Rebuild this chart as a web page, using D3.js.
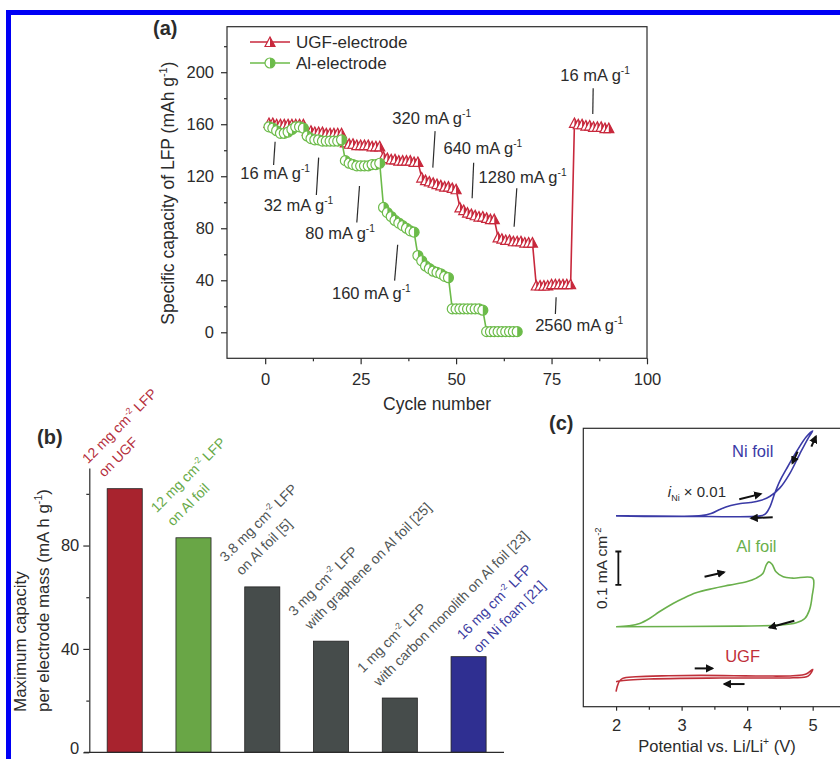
<!DOCTYPE html>
<html>
<head>
<meta charset="utf-8">
<script src="https://cdn.jsdelivr.net/npm/d3@7"></script>
<style>
  body { margin: 0; background: #fff; }
  svg { display: block; font-family: "Liberation Sans", Arial, sans-serif; }
</style>
</head>
<body>
<svg id="fig" width="840" height="759"></svg>
<script>
// ---------- data: (a) rate capability ----------
const ugfCycles = d3.range(1, 91);
const ugfCapacity = [
  161, 161, 160, 160, 160, 160, 160, 160, 160, 160,
  155, 155, 154, 154, 154, 153, 153, 153, 153, 153,
  146, 145, 145, 144, 144, 144, 144, 143, 143, 143,
  135, 134, 133, 133, 132, 132, 132, 132, 131, 131,
  119, 117, 116, 115, 114, 113, 112, 112, 111, 110,
  96, 94, 92, 91, 90, 89, 89, 88, 87, 87,
  73, 72, 71, 71, 70, 70, 70, 69, 69, 69,
  36, 36, 36, 36, 37, 37, 37, 37, 37, 37,
  161, 160, 160, 159, 159, 158, 158, 158, 157, 157
];
const alCycles = d3.range(1, 67);
const alCapacity = [
  158, 157, 155, 153, 153, 154, 156, 158, 158, 157,
  151, 149, 148, 148, 147, 147, 147, 147, 147, 148,
  132, 130, 129, 128, 128, 128, 128, 129, 129, 130,
  96, 92, 89, 86, 84, 82, 80, 78, 77,
  59, 55, 51, 49, 47, 46, 45, 43, 42,
  18, 18, 18, 18, 18, 18, 18, 18, 17,
  0.5, 0.5, 0.5, 0.5, 0.5, 0.5, 0.5, 0.5, 0.5
];
const xTicksA = [0, 25, 50, 75, 100];
const yTicksA = [0, 40, 80, 120, 160, 200];
// current-rate notes: text anchor and leader line, in (cycle, capacity)
const rateNotes = [
  { text: "16 mA g^{-1}",   at: [-6.5, 117.7], line: [[2.6, 146.5], [2.2, 128.7]] },
  { text: "32 mA g^{-1}",   at: [-0.4, 93.4],  line: [[14.0, 134.3], [13.4, 105.6]] },
  { text: "80 mA g^{-1}",   at: [10.5, 71.7],  line: [[24.7, 112.5], [24.0, 84.4]] },
  { text: "160 mA g^{-1}",  at: [17.5, 25.6],  line: [[34.7, 67.3], [33.9, 39.7]] },
  { text: "320 mA g^{-1}",  at: [33.3, 160.1], line: [[44.5, 154.7], [43.9, 126.6]] },
  { text: "640 mA g^{-1}",  at: [46.7, 136.9], line: [[54.6, 130.4], [54.2, 103.1]] },
  { text: "1280 mA g^{-1}", at: [55.9, 115.1], line: [[65.9, 110.8], [65.2, 81.1]] },
  { text: "2560 mA g^{-1}", at: [70.7, 1.3],   line: [[76.2, 26.9], [76.0, 14.1]] },
  { text: "16 mA g^{-1}",   at: [77.3, 193.1], line: [[85.9, 187.7], [85.8, 167.8]] }
];

// ---------- data: (b) maximum capacity ----------
const barNames = ["UGF", "Al foil", "Al foil [5]", "graphene [25]", "monolith [23]", "Ni foam [21]"];
const barValues = [102, 83, 64, 43, 21, 37];
const barLabels = [
  ["12 mg cm^{-2} LFP", "on UGF"],
  ["12 mg cm^{-2} LFP", "on Al foil"],
  ["3.8 mg cm^{-2} LFP", "on Al foil [5]"],
  ["3 mg cm^{-2} LFP", "with graphene on Al foil [25]"],
  ["1 mg cm^{-2} LFP", "with carbon monolith on Al foil [23]"],
  ["16 mg cm^{-2} LFP", "on Ni foam [21]"]
];
const yTicksB = [0, 40, 80];

// ---------- data: (c) CV curves, [potential V, current mA cm-2 incl. offset] ----------
const niFoil = [
  [2.0, 0.573], [3.3, 0.574], [3.45, 0.580], [3.6, 0.594], [3.75, 0.604], [3.9, 0.610],
  [4.05, 0.613], [4.2, 0.619], [4.35, 0.632], [4.5, 0.657], [4.65, 0.700], [4.8, 0.758],
  [4.93, 0.806], [5.0, 0.828],
  [4.9, 0.810], [4.75, 0.765], [4.6, 0.714], [4.5, 0.678], [4.42, 0.640], [4.35, 0.601],
  [4.28, 0.579], [4.2, 0.573], [3.0, 0.572], [2.0, 0.573]
];
const alFoil = [
  [2.0, 0.240], [2.2, 0.243], [2.36, 0.250], [2.51, 0.265], [2.66, 0.285], [2.87, 0.310],
  [3.02, 0.325], [3.22, 0.342], [3.48, 0.355], [3.73, 0.365], [3.99, 0.375], [4.14, 0.386],
  [4.24, 0.400], [4.29, 0.425], [4.33, 0.435], [4.38, 0.428], [4.44, 0.405], [4.55, 0.390],
  [4.7, 0.386], [5.0, 0.386],
  [4.99, 0.330], [4.95, 0.290], [4.88, 0.265], [4.75, 0.252], [4.49, 0.245], [3.88, 0.242],
  [2.0, 0.240]
];
const ugfCV = [
  [2.0, 0.045], [2.02, 0.062], [2.05, 0.076], [2.1, 0.085], [2.3, 0.090], [2.8, 0.093],
  [3.3, 0.094], [3.8, 0.093], [4.3, 0.092], [4.7, 0.093], [4.9, 0.098], [5.0, 0.112],
  [4.93, 0.092], [4.7, 0.087], [4.2, 0.086], [3.6, 0.086], [3.0, 0.085], [2.5, 0.083],
  [2.2, 0.080], [2.05, 0.077], [2.0, 0.075]
];
// scan direction arrows: [from, to]
const cvArrows = [
  [[3.88, 0.623], [4.21, 0.639]], [[4.39, 0.569], [4.06, 0.566]],
  [[4.77, 0.766], [4.69, 0.731]], [[4.98, 0.781], [5.05, 0.812]],
  [[3.35, 0.390], [3.65, 0.404]], [[4.72, 0.258], [4.34, 0.238]],
  [[3.20, 0.115], [3.47, 0.115]], [[3.96, 0.068], [3.65, 0.068]]
];
const xTicksC = [2, 3, 4, 5];

// ---------- helpers ----------
const svg = d3.select("#fig");
const ink = "#2b2b2b";

// text with ^{...} superscripts
function rich(text, str, size) {
  const parts = str.split(/\^\{(.*?)\}/);
  let raised = false;
  parts.forEach((p, i) => {
    if (i % 2 === 1) {
      text.append("tspan").attr("font-size", size * 0.62).attr("dy", -size * 0.42).text(p);
      raised = true;
    } else if (p) {
      const t = text.append("tspan").text(p);
      if (raised) t.attr("dy", size * 0.42);
      raised = false;
    }
  });
  return text;
}

svg.append("rect").attr("width", 840).attr("height", 759).attr("fill", "#fff");

// blue frame of the page
svg.append("path")
  .attr("d", "M8.5,759V12.5H840")
  .attr("fill", "none").attr("stroke", "#0000f5").attr("stroke-width", 5);

svg.append("defs").append("marker")
  .attr("id", "ah").attr("viewBox", "0 0 10 10")
  .attr("refX", 8).attr("refY", 5)
  .attr("markerWidth", 4.2).attr("markerHeight", 4.2)
  .attr("orient", "auto")
  .append("path").attr("d", "M0,0L10,5L0,10Z").attr("fill", "#111");

// ================= (a) =================
const xA = d3.scaleLinear([-10, 100], [227, 647]);
const yA = d3.scaleLinear([-20, 235], [358.3, 26.7]);
const gA = svg.append("g");

gA.append("rect")
  .attr("x", xA(-10)).attr("y", yA(235))
  .attr("width", xA(100) - xA(-10)).attr("height", yA(-20) - yA(235))
  .attr("fill", "none").attr("stroke", ink).attr("stroke-width", 1.2);

gA.append("g")
  .attr("transform", `translate(0,${yA(-20)})`)
  .call(d3.axisBottom(xA).tickValues(xTicksA).tickSize(6).tickPadding(9).tickSizeOuter(0))
  .call((g) => g.select(".domain").remove());
gA.append("g")
  .attr("transform", `translate(0,${yA(-20)})`)
  .call(d3.axisBottom(xA).tickValues([12.5, 37.5, 62.5, 87.5]).tickSize(3).tickFormat(""))
  .call((g) => g.select(".domain").remove());
gA.append("g")
  .attr("transform", `translate(${xA(-10)},0)`)
  .call(d3.axisLeft(yA).tickValues(yTicksA).tickSize(6).tickPadding(7).tickSizeOuter(0))
  .call((g) => g.select(".domain").remove());
gA.append("g")
  .attr("transform", `translate(${xA(-10)},0)`)
  .call(d3.axisLeft(yA).tickValues([20, 60, 100, 140, 180, 220]).tickSize(3).tickFormat(""))
  .call((g) => g.select(".domain").remove());

gA.append("text")
  .attr("x", xA(45)).attr("y", 410)
  .attr("text-anchor", "middle").attr("font-size", 17.5).attr("fill", ink)
  .text("Cycle number");
rich(gA.append("text")
  .attr("transform", `translate(174,${yA(107)}) rotate(-90)`)
  .attr("text-anchor", "middle").attr("font-size", 17.5).attr("fill", ink),
  "Specific capacity of LFP (mAh g^{-1})", 17.5);

const red = "#c8283c";
const green = "#6cbb4a";
const triFull = "M0,-5L5,4.5L-5,4.5Z";
const triHalf = "M0,-5L5,4.5L0,4.5Z";
const cirHalf = "M0,-5A5,5 0 0 1 0,5Z";

function drawMarker(g, shape, color) {
  if (shape === "tri") {
    g.append("path").attr("d", triFull).attr("fill", "#fff").attr("stroke", color).attr("stroke-width", 1.2);
    g.append("path").attr("d", triHalf).attr("fill", color);
  } else {
    g.append("circle").attr("r", 5).attr("fill", "#fff").attr("stroke", color).attr("stroke-width", 1.2);
    g.append("path").attr("d", cirHalf).attr("fill", color);
  }
}

function series(cycles, values, shape, color) {
  const pts = cycles.map((c, i) => [c, values[i]]);
  gA.append("path")
    .attr("d", d3.line().x((d) => xA(d[0])).y((d) => yA(d[1]))(pts))
    .attr("fill", "none").attr("stroke", color).attr("stroke-width", 1.6);
  gA.append("g").selectAll("g")
    .data(pts)
    .join("g")
    .attr("transform", (d) => `translate(${xA(d[0])},${yA(d[1])})`)
    .each(function () { drawMarker(d3.select(this), shape, color); });
}
series(ugfCycles, ugfCapacity, "tri", red);
series(alCycles, alCapacity, "cir", green);

// legend
[["UGF-electrode", "tri", red, 42], ["Al-electrode", "cir", green, 63]].forEach(([name, shape, color, y]) => {
  gA.append("line").attr("x1", 250).attr("x2", 290).attr("y1", y).attr("y2", y)
    .attr("stroke", color).attr("stroke-width", 1.6);
  drawMarker(gA.append("g").attr("transform", `translate(270,${y})`), shape, color);
  gA.append("text").attr("x", 296).attr("y", y + 6)
    .attr("font-size", 17).attr("fill", ink).text(name);
});

// rate notes
rateNotes.forEach((n) => {
  gA.append("line")
    .attr("x1", xA(n.line[0][0])).attr("y1", yA(n.line[0][1]))
    .attr("x2", xA(n.line[1][0])).attr("y2", yA(n.line[1][1]))
    .attr("stroke", ink).attr("stroke-width", 1.2);
  rich(gA.append("text")
    .attr("x", xA(n.at[0])).attr("y", yA(n.at[1]))
    .attr("font-size", 16.5).attr("fill", ink), n.text, 16.5);
});

svg.append("text").attr("x", 153).attr("y", 35)
  .attr("font-size", 20).attr("font-weight", "bold").attr("fill", ink).text("(a)");

// ================= (b) =================
const xB = d3.scaleBand(barNames, [89.3, 504]).paddingInner(0.49).paddingOuter(0.26);
const yB = d3.scaleLinear([0, 110], [752.3, 468]);
const barFill = ["#a8232e", "#69a646", "#464c4b", "#464c4b", "#464c4b", "#2f2f91"];
const labelFill = ["#b5303c", "#68aa48", "#505555", "#505555", "#505555", "#3b3ba0"];
const gB = svg.append("g");

gB.append("g")
  .selectAll("rect")
  .data(barValues)
  .join("rect")
  .attr("x", (d, i) => xB(barNames[i]))
  .attr("y", (d) => yB(d))
  .attr("width", xB.bandwidth())
  .attr("height", (d) => yB(0) - yB(d))
  .attr("fill", (d, i) => barFill[i])
  .attr("stroke", "#222").attr("stroke-width", 0.8);

gB.append("g")
  .attr("class", "yb")
  .attr("transform", `translate(89.3,0)`)
  .call(d3.axisLeft(yB).tickValues(yTicksB).tickSize(6).tickPadding(4).tickSizeOuter(0));
gB.append("g")
  .attr("transform", `translate(89.3,0)`)
  .call(d3.axisLeft(yB).tickValues([20, 60, 100]).tickSize(3).tickFormat(""))
  .call((g) => g.select(".domain").remove());
gB.append("line")
  .attr("x1", 84).attr("x2", 504).attr("y1", yB(0)).attr("y2", yB(0))
  .attr("stroke", ink).attr("stroke-width", 1.2);

// rotated labels over the bars (last one sits further right, as in the figure)
barLabels.forEach((lines, i) => {
  const dx = i === 5 ? 28 : -3;
  const dy = i === 5 ? -3 : -11;
  const t = gB.append("g")
    .attr("transform", `translate(${xB(barNames[i]) + dx},${yB(barValues[i]) + dy}) rotate(-45)`);
  lines.forEach((s, k) => {
    rich(t.append("text")
      .attr("x", k === 0 ? -2 : 0).attr("y", k === 0 ? -21 : 0)
      .attr("font-size", 14).attr("fill", labelFill[i]), s, 14);
  });
});

rich(gB.append("text")
  .attr("transform", "translate(26,712) rotate(-90)")
  .attr("font-size", 17).attr("fill", ink), "Maximum capacity", 17);
rich(gB.append("text")
  .attr("transform", "translate(49,712) rotate(-90)")
  .attr("font-size", 17).attr("fill", ink), "per electrode mass (mA h g^{-1})", 17);

svg.append("text").attr("x", 37).attr("y", 444)
  .attr("font-size", 20).attr("font-weight", "bold").attr("fill", ink).text("(b)");

// ================= (c) =================
const xC = d3.scaleLinear([1.5, 5.4], [583.3, 838.9]);
const yC = d3.scaleLinear([0, 0.836], [706.7, 428.3]);
const gC = svg.append("g");

gC.append("rect")
  .attr("x", xC(1.5)).attr("y", yC(0.836))
  .attr("width", 270).attr("height", yC(0) - yC(0.836))
  .attr("fill", "none").attr("stroke", ink).attr("stroke-width", 1.2);
gC.append("g")
  .attr("transform", `translate(0,${yC(0)})`)
  .call(d3.axisBottom(xC).tickValues(xTicksC).tickFormat(d3.format("d"))
    .tickSize(4).tickPadding(9).tickSizeOuter(0))
  .call((g) => g.select(".domain").remove());
gC.append("g")
  .attr("transform", `translate(0,${yC(0)})`)
  .call(d3.axisBottom(xC).tickValues([2.5, 3.5, 4.5]).tickSize(3).tickFormat(""))
  .call((g) => g.select(".domain").remove());

rich(gC.append("text")
  .attr("x", 717).attr("y", 752)
  .attr("text-anchor", "middle").attr("font-size", 16.5).attr("fill", ink),
  "Potential vs. Li/Li^{+} (V)", 16.5);

const cvLine = d3.line().x((d) => xC(d[0])).y((d) => yC(d[1])).curve(d3.curveCatmullRom);
[[niFoil, "#3a3aa6"], [alFoil, "#6ab04c"], [ugfCV, "#c0303a"]].forEach(([pts, color]) => {
  gC.append("path").attr("d", cvLine(pts))
    .attr("fill", "none").attr("stroke", color).attr("stroke-width", 1.6);
});

gC.append("g")
  .selectAll("line")
  .data(cvArrows)
  .join("line")
  .attr("x1", (d) => xC(d[0][0])).attr("y1", (d) => yC(d[0][1]))
  .attr("x2", (d) => xC(d[1][0])).attr("y2", (d) => yC(d[1][1]))
  .attr("stroke", "#111").attr("stroke-width", 2)
  .attr("marker-end", "url(#ah)");

// curve names
[["Ni foil", 4.085, 0.751, "#3a3aa6"], ["Al foil", 4.14, 0.465, "#6ab04c"], ["UGF", 3.93, 0.135, "#c0303a"]]
  .forEach(([s, v, c, color]) => {
    gC.append("text").attr("x", xC(v)).attr("y", yC(c))
      .attr("text-anchor", "middle").attr("font-size", 16.5).attr("fill", color).text(s);
  });

const iNi = gC.append("text").attr("x", xC(2.79)).attr("y", yC(0.629))
  .attr("font-size", 15).attr("fill", ink);
iNi.append("tspan").attr("font-style", "italic").text("i");
iNi.append("tspan").attr("font-size", 9).attr("dy", 4).text("Ni");
iNi.append("tspan").attr("dy", -4).text(" × 0.01");

// scale bar 0.1 mA cm-2
const sbX = xC(2.035);
gC.append("path")
  .attr("d", `M${sbX - 3},${yC(0.466)}H${sbX + 3}M${sbX},${yC(0.466)}V${yC(0.366)}M${sbX - 3},${yC(0.366)}H${sbX + 3}`)
  .attr("fill", "none").attr("stroke", "#111").attr("stroke-width", 1.8);
rich(gC.append("text")
  .attr("transform", `translate(607,${yC(0.416)}) rotate(-90)`)
  .attr("text-anchor", "middle").attr("font-size", 15.5).attr("fill", ink),
  "0.1 mA cm^{-2}", 15.5);

svg.append("text").attr("x", 549).attr("y", 430)
  .attr("font-size", 20).attr("font-weight", "bold").attr("fill", ink).text("(c)");

// axis styling
svg.selectAll(".tick text").attr("font-size", 16.5).attr("fill", ink).attr("font-family", null);
svg.selectAll(".tick line, .domain").attr("stroke", ink).attr("stroke-width", 1.2);
// the "0" of (b) sits on the page edge; lift it a little so it stays whole
gB.select(".yb").selectAll(".tick text").filter((d) => d === 0).attr("dy", "0.1em");
</script>
</body>
</html>
